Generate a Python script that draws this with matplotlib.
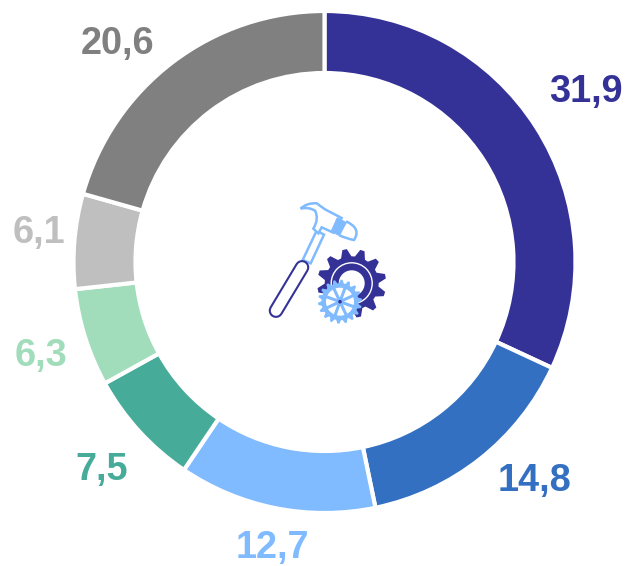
import numpy as np
import matplotlib
matplotlib.use("Agg")
import matplotlib.pyplot as plt
from matplotlib.patches import Circle, Polygon, PathPatch
from matplotlib.path import Path
from matplotlib.transforms import Affine2D

values = [31.9, 14.8, 12.7, 7.5, 6.3, 6.1, 20.6]
labels = ["31,9", "14,8", "12,7", "7,5", "6,3", "6,1", "20,6"]
colors = ["#353297", "#3470C1", "#80BAFF", "#46AB98", "#A1DDBB", "#BFBFBF", "#808080"]
label_px = [(586, 102), (534, 491), (272, 557.5), (102, 480), (41, 366), (39, 243), (118, 54)]

W, H = 626, 566
fig = plt.figure(figsize=(W/100, H/100), dpi=100)
ax = fig.add_axes([0, 0, 1, 1])

cx, cy, R = 324.5, 262, 251
wedges, _ = ax.pie(values, colors=colors, startangle=90, counterclock=False, radius=R, center=(cx, cy),
       wedgeprops=dict(width=62, edgecolor="white", linewidth=3), frame=False)
ax.set_xlim(0, W); ax.set_ylim(H, 0); ax.set_aspect("equal"); ax.axis("off")
for w in wedges:
    w.set_transform(Affine2D().scale(1, -1).translate(0, 2*cy) + ax.transData)

for t, (x, y), c in zip(labels, label_px, colors):
    ax.text(x, y, t, color=c, fontsize=27.3, fontweight="bold", family="Liberation Sans", ha="center", va="baseline")

dark, light = "#353297", "#80BAFF"

def z(pts):
    return [(250 + x/3, 190 + y/3) for x, y in pts]

# hammer handle, light outline
ax.add_patch(Polygon(z([(200, 122), (222, 134), (182, 220), (158, 210)]), fc="white", ec=light, lw=1.8, zorder=2))
# grip, dark capsule
grip = z([(156, 232), (78, 362)])
ax.plot(*zip(*grip), color=dark, lw=10.5, solid_capstyle="round", zorder=2.1)
ax.plot(*zip(*grip), color="white", lw=7.5, solid_capstyle="round", zorder=2.2)
# hammer head with claw
head = Path(z([(152, 56), (170, 38), (200, 40), (225, 58), (275, 84), (250, 128), (215, 112), (205, 130), (190, 116), (208, 86), (195, 62), (175, 50), (152, 56)]),
            [Path.MOVETO, Path.CURVE3, Path.CURVE3, Path.LINETO, Path.LINETO, Path.LINETO, Path.LINETO, Path.LINETO, Path.LINETO, Path.CURVE3, Path.CURVE3, Path.CURVE3, Path.CURVE3])
ax.add_patch(PathPatch(head, fc="white", ec=light, lw=1.8, zorder=2.3))
ax.add_patch(PathPatch(Path(z([(288, 94), (335, 115), (312, 150), (290, 146), (268, 136)]),
                            [Path.MOVETO, Path.CURVE3, Path.CURVE3, Path.CURVE3, Path.CURVE3]),
                       fc="white", ec=light, lw=1.8, zorder=2.4))
ax.add_patch(Polygon(z([(262, 84), (288, 98), (268, 136), (244, 124)]), fc=light, ec=light, lw=1, zorder=2.5))

def gear_outline(x, y, r, teeth, root):
    a = np.linspace(0, 2*np.pi, teeth*4, endpoint=False) + 0.12
    rad = np.tile([root, r, r, root], teeth)
    return np.c_[x + rad*np.cos(a), y + rad*np.sin(a)]

# large dark gear
gx, gy = 351.7, 283.3
ax.add_patch(Polygon(gear_outline(gx, gy, 34.5, 12, 27), fc=dark, ec="none", zorder=3))
ax.add_patch(Circle((gx, gy), 20.5, fc="none", ec="white", lw=1, zorder=3.1))
ax.add_patch(Circle((gx, gy), 13, fc="white", ec="none", zorder=3.1))

# small light gear
sx, sy = 340, 301.7
ax.add_patch(Polygon(gear_outline(sx, sy, 22, 18, 18.5), fc=light, ec="none", zorder=4))
ax.add_patch(Circle((sx, sy), 14, fc="white", ec="none", zorder=4.1))
for ang in np.arange(0, 180, 45):
    d = 15*np.array([np.cos(np.radians(ang+20)), np.sin(np.radians(ang+20))])
    ax.plot([sx-d[0], sx+d[0]], [sy-d[1], sy+d[1]], color=light, lw=2.2, zorder=4.2)
ax.add_patch(Circle((sx, sy), 4, fc=light, ec="none", zorder=4.3))
ax.add_patch(Circle((sx, sy), 1.8, fc=dark, ec="none", zorder=4.4))

fig.savefig("out.png", dpi=100)
